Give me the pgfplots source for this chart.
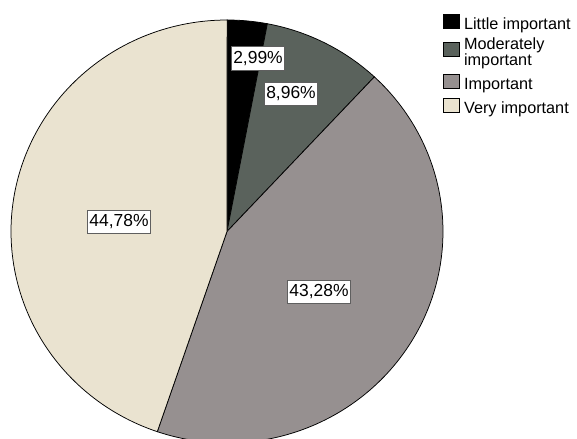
\documentclass[border=0pt]{standalone}
\usepackage{fontspec}
\setmainfont{Liberation Sans}
\usepackage{pgfplots}
\pgfplotsset{compat=1.18}
\definecolor{little}{RGB}{0,0,0}
\definecolor{moder}{RGB}{90,98,92}
\definecolor{impo}{RGB}{150,144,144}
\definecolor{very}{RGB}{234,227,208}
\definecolor{lblborder}{RGB}{95,95,95}
\tikzset{lbl/.style={draw=lblborder, line width=1bp, fill=white, inner xsep=2bp, inner ysep=4.5bp,
    font=\fontsize{17.5}{18}\selectfont}}
% shares in percent (clockwise from 12 o'clock)
\def\pLittle{2.99}
\def\pModer{8.96}
\def\pImpo{43.28}
\def\pVery{44.78}
\begin{document}
\begin{tikzpicture}
\pgfmathsetmacro{\aA}{3.6*\pLittle}
\pgfmathsetmacro{\aB}{\aA+3.6*\pModer}
\pgfmathsetmacro{\aC}{\aB+3.6*\pImpo}
\pgfmathsetmacro{\aD}{\aC+3.6*\pVery}
\begin{axis}[
  scale only axis, width=577bp, height=439bp,
  xmin=0, xmax=577, ymin=0, ymax=439,
  hide axis, clip=true,
  legend image code/.code={\draw[#1, draw=black, line width=0.6bp] (0bp,-4bp) rectangle (16bp,10bp);},
  legend cell align=left,
  legend style={at={(axis cs:443,425)}, anchor=north west, draw=none, fill=none,
    inner sep=0pt, outer sep=0pt, row sep=6.8bp, column sep=4.5bp,
    font=\fontsize{16.3}{16.4}\selectfont,
    nodes={inner sep=0pt, outer sep=0pt}},
]
\addplot[draw=black, fill=little, line width=0.75bp, domain=0:\aA, samples=20]
  ({227+216*sin(x)}, {207.5+211.5*cos(x)}) -- (227,207.5) -- cycle;
\addlegendentry{Little important}
\addplot[draw=black, fill=moder, line width=0.75bp, domain=\aA:\aB, samples=40]
  ({227+216*sin(x)}, {207.5+211.5*cos(x)}) -- (227,207.5) -- cycle;
\addlegendentry{\vbox{\baselineskip=16.4bp\hbox{Moderately}\hbox{important}}}
\addplot[draw=black, fill=impo, line width=0.75bp, domain=\aB:\aC, samples=120]
  ({227+216*sin(x)}, {207.5+211.5*cos(x)}) -- (227,207.5) -- cycle;
\addlegendentry{Important}
\addplot[draw=black, fill=very, line width=0.75bp, domain=\aC:\aD, samples=120]
  ({227+216*sin(x)}, {207.5+211.5*cos(x)}) -- (227,207.5) -- cycle;
\addlegendentry{Very important}
\node[lbl] at (axis cs:258,380.5) {2,99\%};
\node[lbl] at (axis cs:291,345) {8,96\%};
\node[lbl] at (axis cs:319,147) {43,28\%};
\node[lbl] at (axis cs:119,217) {44,78\%};
\end{axis}
\pgfresetboundingbox
\path (current axis.south west) rectangle (current axis.north east);
\end{tikzpicture}
\end{document}
